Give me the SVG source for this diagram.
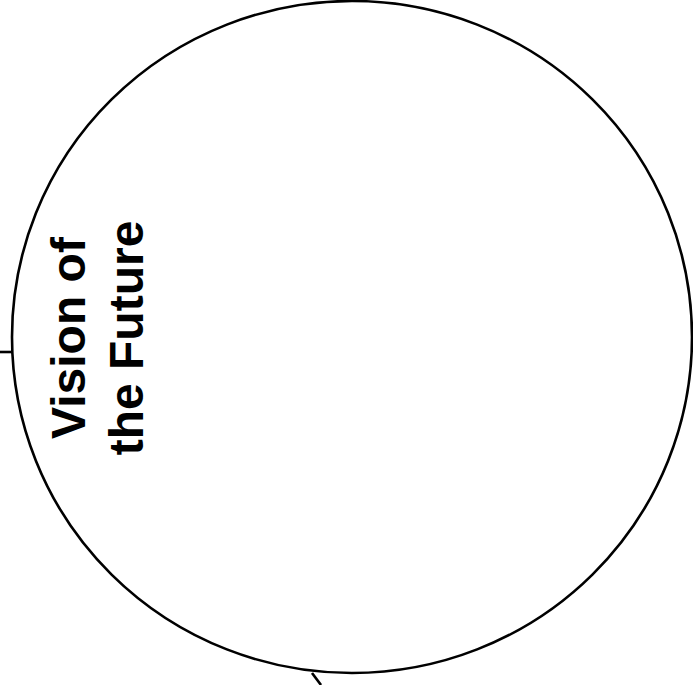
<svg xmlns="http://www.w3.org/2000/svg" width="693" height="685" viewBox="0 0 693 685">
<style>
.ln{fill:none;stroke:#000;stroke-width:2.6}
.lbl{font-family:"Liberation Sans",Arial,sans-serif;font-weight:bold;font-size:48px;fill:#000;text-anchor:middle}
</style>
<rect width="693" height="685" fill="#fff"/>
<g id="connectors">
<line class="ln" x1="0" y1="352" x2="13" y2="352"/>
<line class="ln" x1="312" y1="673" x2="321" y2="685"/>
</g>
<g id="vision">
<ellipse class="ln" cx="352" cy="337" rx="340" ry="336"/>
<text class="lbl" transform="translate(85,338) rotate(-90)">Vision of</text>
<text class="lbl" transform="translate(143,338) rotate(-90)">the Future</text>
</g>
</svg>
